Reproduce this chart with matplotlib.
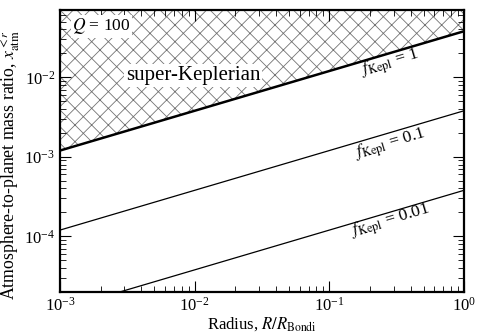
import numpy as np
import matplotlib
matplotlib.use("Agg")
import matplotlib.pyplot as plt

plt.rcParams['font.family'] = ['Liberation Serif', 'DejaVu Serif']
plt.rcParams['mathtext.fontset'] = 'stix'
plt.rcParams['hatch.linewidth'] = 0.6

# radius endpoints and x_atm values (straight lines in log-log)
radius = [1e-3, 1.0]
f_kepl = [1, 0.1, 0.01]
x_atm_f1 = [1.2e-3, 3.8e-2]
x_atm_f01 = [1.2e-4, 3.8e-3]
x_atm_f001 = [1.2e-5, 3.8e-4]
label_x = [0.28, 0.28, 0.28]
label_y = [1.5e-2, 1.46e-3, 1.55e-4]
label_text = [r"$f_{\rm Kepl}$ = 1", r"$f_{\rm Kepl}$ = 0.1", r"$f_{\rm Kepl}$ = 0.01"]

fig = plt.figure(figsize=(4.8, 3.36), dpi=100)
ax = fig.add_axes([0.125, 0.131, 0.842, 0.839])

ax.fill_between(radius, x_atm_f1, [1, 1], facecolor='white', edgecolor='0.45',
                hatch='xx', linewidth=0)
ax.plot(radius, x_atm_f1, color='black', lw=1.8)
ax.plot(radius, x_atm_f01, color='black', lw=0.9)
ax.plot(radius, x_atm_f001, color='black', lw=0.9)

ax.set_xscale('log')
ax.set_yscale('log')
ax.set_xlim(1e-3, 1)
ax.set_ylim(2e-5, 7e-2)

for xt, yt, s in zip(label_x, label_y, label_text):
    ax.text(xt, yt, s, fontsize=12.5, rotation=16.5, ha='center', va='center')

ax.text(1.23e-3, 4.4e-2, r"$Q$ = 100", fontsize=12.5, ha='left', va='center',
        bbox=dict(facecolor='white', edgecolor='none', pad=1))
ax.text(9.7e-3, 1.06e-2, "super-Keplerian", fontsize=15, ha='center', va='center',
        bbox=dict(facecolor='white', edgecolor='none', pad=1.5))

ax.set_xlabel(r"Radius, $R/R_{\rm Bondi}$", fontsize=12, labelpad=0)
ax.set_ylabel(r"Atmosphere-to-planet mass ratio, $x_{\rm atm}^{<r}$", fontsize=12.8)
ax.yaxis.set_label_coords(-0.094, 0.45)

ax.tick_params(which='both', direction='in', top=True, right=True, labelsize=12)
ax.tick_params(which='major', length=8, width=0.8)
ax.tick_params(which='minor', length=4.5, width=0.6)
for sp in ax.spines.values():
    sp.set_linewidth(1.6)

plt.savefig("out.png", dpi=100)
